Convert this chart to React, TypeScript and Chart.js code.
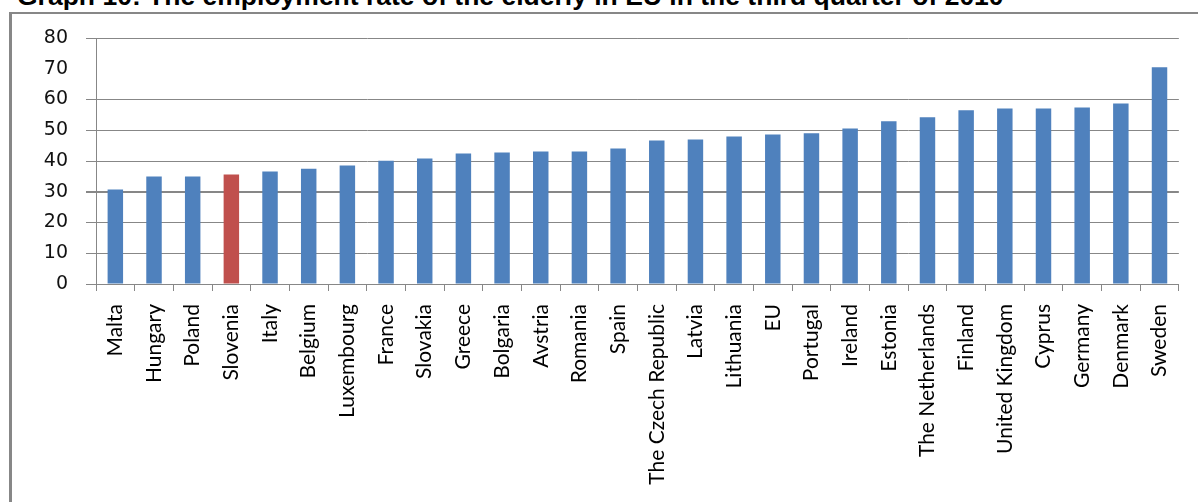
import React, { useEffect, useRef } from "react";
import { Chart, registerables } from "chart.js";

Chart.register(...registerables);

const titleText = "Graph 10: The employment rate of the elderly in EU in the third quarter of 2010";

const categories = [
  "Malta", "Hungary", "Poland", "Slovenia", "Italy", "Belgium", "Luxembourg", "France",
  "Slovakia", "Greece", "Bolgaria", "Avstria", "Romania", "Spain", "The Czech Republic",
  "Latvia", "Lithuania", "EU", "Portugal", "Ireland", "Estonia", "The Netherlands",
  "Finland", "United Kingdom", "Cyprus", "Germany", "Denmark", "Sweden",
];

const rates = [
  30.7, 35.0, 35.0, 35.6, 36.6, 37.5, 38.5, 40.1,
  40.8, 42.4, 42.8, 43.1, 43.1, 44.1, 46.7,
  47.0, 48.0, 48.6, 49.0, 50.6, 52.9, 54.2,
  56.5, 57.1, 57.1, 57.4, 58.7, 70.5,
];

const highlighted = "Slovenia";

const yTicks = [0, 10, 20, 30, 40, 50, 60, 70, 80];

const BLUE = "#4F81BD";
const RED = "#C0504D";
const GRID = "#878787";

export default function App() {
  const ref = useRef<HTMLCanvasElement>(null);

  useEffect(() => {
    if (!ref.current) return;
    const chart = new Chart(ref.current, {
      type: "bar",
      data: {
        labels: categories,
        datasets: [
          {
            data: rates,
            backgroundColor: categories.map((c) => (c === highlighted ? RED : BLUE)),
            barPercentage: 0.4,
            categoryPercentage: 1,
          },
        ],
      },
      options: {
        animation: false,
        responsive: false,
        devicePixelRatio: 1,
        layout: { padding: { top: 38, right: 16, left: 0, bottom: 0 } },
        plugins: { legend: { display: false }, tooltip: { enabled: false }, title: { display: false } },
        scales: {
          x: {
            grid: { offset: true, drawOnChartArea: false, color: GRID, tickLength: 7 },
            border: { color: GRID, width: 1 },
            ticks: {
              autoSkip: false,
              minRotation: 90,
              maxRotation: 90,
              padding: 13,
              color: "#000",
              font: { family: "Lato", size: 21 },
            },
            afterFit: (s: any) => {
              s.height = 218;
            },
          },
          y: {
            min: yTicks[0],
            max: yTicks[yTicks.length - 1],
            afterBuildTicks: (s: any) => {
              s.ticks = yTicks.map((v) => ({ value: v }));
            },
            ticks: {
              padding: 18,
              color: "#111",
              font: { family: "DejaVu Sans", size: 19 },
            },
            grid: {
              color: (ctx: any) => (ctx.tick && ctx.tick.value === 70 ? "rgba(0,0,0,0)" : GRID),
              lineWidth: (ctx: any) => (ctx.tick && ctx.tick.value === 30 ? 2 : 1),
              tickLength: 10,
            },
            border: { color: GRID, width: 1 },
            afterFit: (s: any) => {
              s.width = 96;
            },
          },
        },
      },
    });
    return () => chart.destroy();
  }, []);

  return (
    <div
      style={{
        position: "absolute",
        left: 0,
        top: 0,
        width: 1198,
        height: 502,
        overflow: "hidden",
        background: "#fff",
      }}
    >
      <div
        style={{
          position: "absolute",
          left: 9,
          top: 12,
          width: 2000,
          height: 2000,
          borderLeft: "3px solid #878787",
          borderTop: "2px solid #878787",
        }}
      />
      <div
        style={{
          position: "absolute",
          left: 17,
          top: -17.4,
          whiteSpace: "nowrap",
          fontFamily: "'Liberation Sans', Arial, sans-serif",
          fontWeight: "bold",
          fontSize: "26.5px",
          lineHeight: "26.5px",
          color: "#000",
        }}
      >
        {titleText}
      </div>
      <canvas
        ref={ref}
        width={1198}
        height={502}
        style={{ position: "absolute", left: 0, top: 0, width: 1198, height: 502 }}
      />
    </div>
  );
}
